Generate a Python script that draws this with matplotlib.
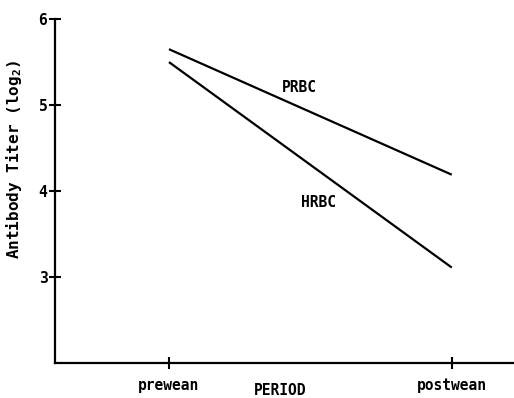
import matplotlib.pyplot as plt

periods = ['prewean', 'postwean']
xpos = [1, 2]
prbc = [5.65, 4.19]
hrbc = [5.50, 3.11]
yticks = [3, 4, 5, 6]

plt.rcParams['font.family'] = ['DejaVu Sans Mono', 'DejaVu Sans']
plt.rcParams['font.weight'] = 'bold'
plt.rcParams['mathtext.fontset'] = 'custom'
plt.rcParams['mathtext.rm'] = 'DejaVu Sans Mono:bold'
FS = 10.5

fig = plt.figure(figsize=(5.14, 3.98), dpi=100)
ax = fig.add_axes([0.107, 0.088, 0.893, 0.864])

ax.plot([1.0, 2.0], prbc, color='black', lw=1.6, solid_capstyle='butt')
ax.plot([1.0, 2.0], hrbc, color='black', lw=1.6, solid_capstyle='butt')

ax.text(1.46, 5.21, 'PRBC', ha='center', va='center', fontsize=FS, fontweight='bold')
ax.text(1.53, 3.87, 'HRBC', ha='center', va='center', fontsize=FS, fontweight='bold')

ax.set_xlim(0.597, 2.22)
ax.set_ylim(2.0, 6.0)
ax.set_xticks(xpos)
ax.set_xticklabels(periods, fontsize=FS, fontweight='bold')
ax.set_yticks(yticks)
ax.set_yticklabels([str(v) for v in yticks], fontsize=FS, fontweight='bold')

for s in ['top', 'right']:
    ax.spines[s].set_visible(False)
for s in ['left', 'bottom']:
    ax.spines[s].set_linewidth(1.6)
ax.tick_params(direction='inout', length=9, width=1.5, pad=1)
ax.tick_params(axis='x', pad=6)

ax.set_ylabel('Antibody Titer (log$_\\mathrm{2}$)', fontsize=11.5, fontweight='bold')
ax.yaxis.set_label_coords(-0.068, 0.593)
fig.text(0.545, 0.018, 'PERIOD', ha='center', va='center', fontsize=FS, fontweight='bold')

fig.savefig('out.png', dpi=100)
